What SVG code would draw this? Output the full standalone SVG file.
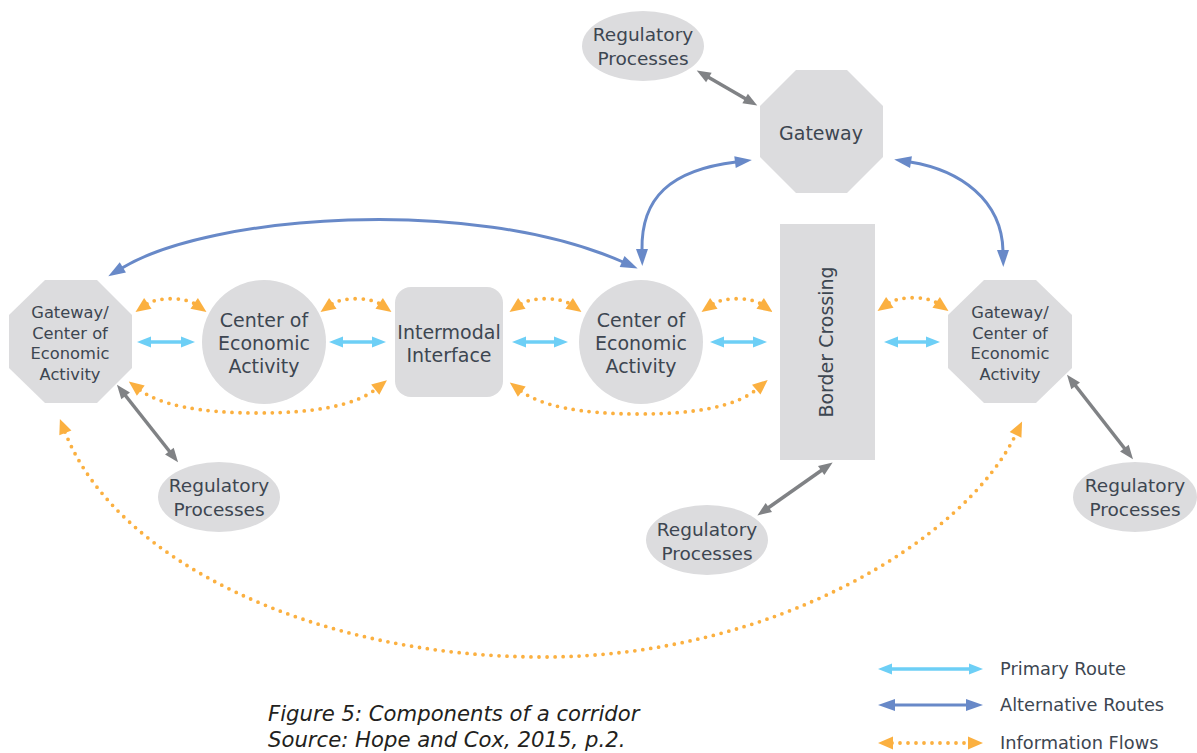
<svg xmlns="http://www.w3.org/2000/svg" width="1197" height="753" viewBox="0 0 1197 753">
<style>
.node{fill:#dcdcde;stroke:none}
.t{font-family:"DejaVu Sans",sans-serif;fill:#3d4651;text-anchor:middle}
.oct{font-size:16.3px}
.mid{font-size:19px}
.reg{font-size:18.5px}
.leg{font-family:"DejaVu Sans",sans-serif;font-size:17.8px;fill:#3d4651}
.cap{font-family:"DejaVu Sans",sans-serif;font-style:italic;font-size:21.2px;fill:#231f20}
.pr{fill:none;stroke:#6dcff6;stroke-width:3.5;marker-start:url(#mPr);marker-end:url(#mPr)}
.alt{fill:none;stroke:#6889c8;stroke-width:3;marker-start:url(#mAlt);marker-end:url(#mAlt)}
.reglink{fill:none;stroke:#808285;stroke-width:3.5;marker-start:url(#mReg);marker-end:url(#mReg)}
.info{fill:none;stroke:#fbb040;stroke-width:3.8;stroke-linecap:round;stroke-dasharray:0 8;marker-start:url(#mInfo);marker-end:url(#mInfo)}
</style>
<defs>
<marker id="mPr" markerUnits="userSpaceOnUse" markerWidth="14" markerHeight="11" refX="1" refY="5.5" orient="auto-start-reverse" overflow="visible"><path d="M0,0 L14,5.5 L0,11 z" fill="#6dcff6"/></marker>
<marker id="mAlt" markerUnits="userSpaceOnUse" markerWidth="17" markerHeight="12" refX="1" refY="6" orient="auto-start-reverse" overflow="visible"><path d="M0,0 L17,6 L0,12 z" fill="#6889c8"/></marker>
<marker id="mReg" markerUnits="userSpaceOnUse" markerWidth="14" markerHeight="11" refX="1" refY="5.5" orient="auto-start-reverse" overflow="visible"><path d="M0,0 L14,5.5 L0,11 z" fill="#808285"/></marker>
<marker id="mInfo" markerUnits="userSpaceOnUse" markerWidth="15" markerHeight="13" refX="1" refY="6.5" orient="auto-start-reverse" overflow="visible"><path d="M0,0 L15,6.5 L0,13 z" fill="#fbb040"/></marker>
</defs>

<g id="connectors">
<path class="pr" d="M150,342 H182"/>
<path class="pr" d="M342,342 H373"/>
<path class="pr" d="M525,342 H555"/>
<path class="pr" d="M723,342 H754"/>
<path class="pr" d="M897,342 H927"/>
<path class="alt" d="M122,268 C210,215 470,195 623,262"/>
<path class="alt" d="M736,162 C670,170 641,198 642,250"/>
<path class="alt" d="M910,162 C960,170 1002,200 1003,251"/>
<path class="reglink" d="M708,77 L746,99"/>
<path class="reglink" d="M125,395 L170,452"/>
<path class="reglink" d="M822,470 L768,508"/>
<path class="reglink" d="M1075,385 L1125,449"/>
<path class="info" d="M147,304 C157,297 185,297 195,304"/>
<path class="info" d="M332,304 C342,297 370,297 380,304"/>
<path class="info" d="M521,304 C531,297 560,297 570,304"/>
<path class="info" d="M713,304 C723,297 751,297 761,304"/>
<path class="info" d="M889,303 C899,296 927,296 937,303"/>
<path class="info" d="M140,390 C160,405 200,413 258,413 C316,413 356,405 376,389"/>
<path class="info" d="M521,391 C541,406 581,414 639,414 C697,414 737,406 757,389"/>
<path class="info" d="M65,432 C115,560 313,657 543,657 C773,657 965,540 1016,434"/>
</g>

<g id="gateway-left">
<polygon class="node" points="45,280 97,280 132,315 132,368 97,403 45,403 9,368 9,315"/>
<text class="t oct" x="70" y="318">Gateway/</text>
<text class="t oct" x="70" y="339">Center of</text>
<text class="t oct" x="70" y="359">Economic</text>
<text class="t oct" x="70" y="380">Activity</text>
</g>

<g id="center-1">
<circle class="node" cx="264" cy="342" r="62"/>
<text class="t mid" x="264" y="327">Center of</text>
<text class="t mid" x="264" y="350">Economic</text>
<text class="t mid" x="264" y="373">Activity</text>
</g>

<g id="intermodal">
<rect class="node" x="395" y="287" width="108" height="110" rx="16"/>
<text class="t mid" x="449" y="339">Intermodal</text>
<text class="t mid" x="449" y="362">Interface</text>
</g>

<g id="center-2">
<circle class="node" cx="641" cy="342" r="62"/>
<text class="t mid" x="641" y="327">Center of</text>
<text class="t mid" x="641" y="350">Economic</text>
<text class="t mid" x="641" y="373">Activity</text>
</g>

<g id="border-crossing">
<rect class="node" x="780" y="224" width="95" height="236"/>
<text class="t mid" transform="translate(833,342) rotate(-90)" x="0" y="0">Border Crossing</text>
</g>

<g id="gateway-right">
<polygon class="node" points="984,280 1036,280 1072,315 1072,368 1036,403 984,403 948,368 948,315"/>
<text class="t oct" x="1010" y="318">Gateway/</text>
<text class="t oct" x="1010" y="339">Center of</text>
<text class="t oct" x="1010" y="359">Economic</text>
<text class="t oct" x="1010" y="380">Activity</text>
</g>

<g id="gateway-top">
<polygon class="node" points="796,70 847,70 883,106 883,157 847,193 796,193 760,157 760,106"/>
<text class="t mid" x="821" y="140">Gateway</text>
</g>

<g id="reg-top">
<ellipse class="node" cx="643" cy="46" rx="61" ry="35"/>
<text class="t reg" x="643" y="41">Regulatory</text>
<text class="t reg" x="643" y="65">Processes</text>
</g>

<g id="reg-left">
<ellipse class="node" cx="219" cy="497" rx="61" ry="35"/>
<text class="t reg" x="219" y="492">Regulatory</text>
<text class="t reg" x="219" y="516">Processes</text>
</g>

<g id="reg-middle">
<ellipse class="node" cx="707" cy="540" rx="61" ry="35"/>
<text class="t reg" x="707" y="536">Regulatory</text>
<text class="t reg" x="707" y="560">Processes</text>
</g>

<g id="reg-right">
<ellipse class="node" cx="1135" cy="497" rx="62" ry="35"/>
<text class="t reg" x="1135" y="492">Regulatory</text>
<text class="t reg" x="1135" y="516">Processes</text>
</g>

<g id="legend">
<path class="pr" d="M891,669 H970"/>
<text class="leg" x="1000" y="675">Primary Route</text>
<path class="alt" d="M894,705 H967"/>
<text class="leg" x="1000" y="711">Alternative Routes</text>
<path class="info" d="M892,743 H969"/>
<text class="leg" x="1000" y="749">Information Flows</text>
</g>

<g id="caption">
<text class="cap" x="268" y="721">Figure 5: Components of a corridor</text>
<text class="cap" x="268" y="747">Source: Hope and Cox, 2015, p.2.</text>
</g>
</svg>
